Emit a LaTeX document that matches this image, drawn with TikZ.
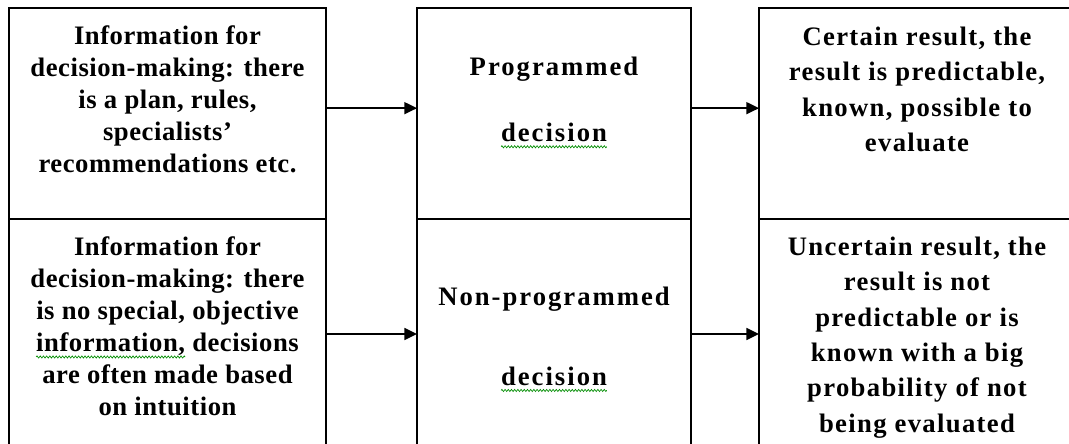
\documentclass[tikz,border=0pt]{standalone}
\usepackage{fontspec}
\setmainfont{Liberation Serif}
\usetikzlibrary{positioning,arrows.meta,decorations.pathmorphing}

% green spell-check wave under a word
\newsavebox{\wordbox}
\newlength{\wavelen}
\newcommand{\spellwave}[1]{\sbox{\wordbox}{#1}\setlength{\wavelen}{\wd\wordbox}\usebox{\wordbox}\tikz[overlay]\draw[green!55!black, line width=0.5pt, decorate, decoration={zigzag, segment length=2.4pt, amplitude=0.8pt}] (-\wavelen,-4pt) -- (0pt,-4pt);}

\begin{document}
\begin{tikzpicture}[node distance=0pt,
    cell/.style={draw, line width=1.4pt, outer sep=0pt, inner sep=0pt},
    celltext/.style={align=center, inner sep=0pt, font=\bfseries\fontsize{20}{24}\selectfont\addfontfeatures{LetterSpace=2}},
    flow/.style={-{Triangle[length=9.5pt,width=9pt]}, line width=1.3pt}]
        \useasboundingbox (0,0) rectangle (801.75pt,-332.25pt);
        \clip (0,0) rectangle (801.75pt,-332.25pt);
        \node[cell, minimum width=237.75pt, minimum height=158.25pt, anchor=north west] (infotop) at (6.75pt,-6pt) {};
        \node[cell, minimum width=237.75pt, minimum height=187.5pt, below=of infotop] (infobot) {};
        \node[cell, minimum width=205.5pt, minimum height=158.25pt, right=68.25pt of infotop] (progtop) {};
        \node[cell, minimum width=205.5pt, minimum height=187.5pt, below=of progtop] (progbot) {};
        \node[cell, minimum width=237pt, minimum height=158.25pt, right=51pt of progtop] (restop) {};
        \node[cell, minimum width=237pt, minimum height=187.5pt, below=of restop] (resbot) {};
        % texts
        \node[celltext, below=13.2pt of infotop.north] (infotoptext) {Information for\\decision-making: there\\is a plan, rules,\\specialists'\\recommendations etc.};
        \node[celltext, below=13.2pt of infobot.north] (infobottext) {Information for\\decision-making: there\\is no special, objective\\\spellwave{information,} decisions\\are often made based\\on intuition};
        \node[celltext, font=\bfseries\fontsize{20}{24}\selectfont\addfontfeatures{LetterSpace=7.5}, below=36.2pt of progtop.north] (progtoptext) {Programmed\\[25.8pt]\spellwave{decision}};
        \node[celltext, font=\bfseries\fontsize{20}{24}\selectfont\addfontfeatures{LetterSpace=7.5}, below=50.7pt of progbot.north] (progbottext) {Non-programmed\\[35.8pt]\spellwave{decision}};
        \node[celltext, font=\bfseries\fontsize{20}{26.5}\selectfont\addfontfeatures{LetterSpace=5}, below=14pt of restop.north] (restoptext) {Certain result, the\\result is predictable,\\known, possible to\\evaluate};
        \node[celltext, font=\bfseries\fontsize{20}{26.5}\selectfont\addfontfeatures{LetterSpace=5}, below=13.2pt of resbot.north] (resbottext) {Uncertain result, the\\result is not\\predictable or is\\known with a big\\probability of not\\being evaluated};
        % arrows
        \draw[flow] ([yshift=4pt]infotop.east) -- ([yshift=4pt]infotop.east -| progtop.west);
        \draw[flow] ([yshift=4pt]progtop.east) -- ([yshift=4pt]progtop.east -| restop.west);
        \draw[flow] ([yshift=7.5pt]infobot.east) -- ([yshift=7.5pt]infobot.east -| progbot.west);
        \draw[flow] ([yshift=7.5pt]progbot.east) -- ([yshift=7.5pt]progbot.east -| resbot.west);
\end{tikzpicture}
\end{document}
